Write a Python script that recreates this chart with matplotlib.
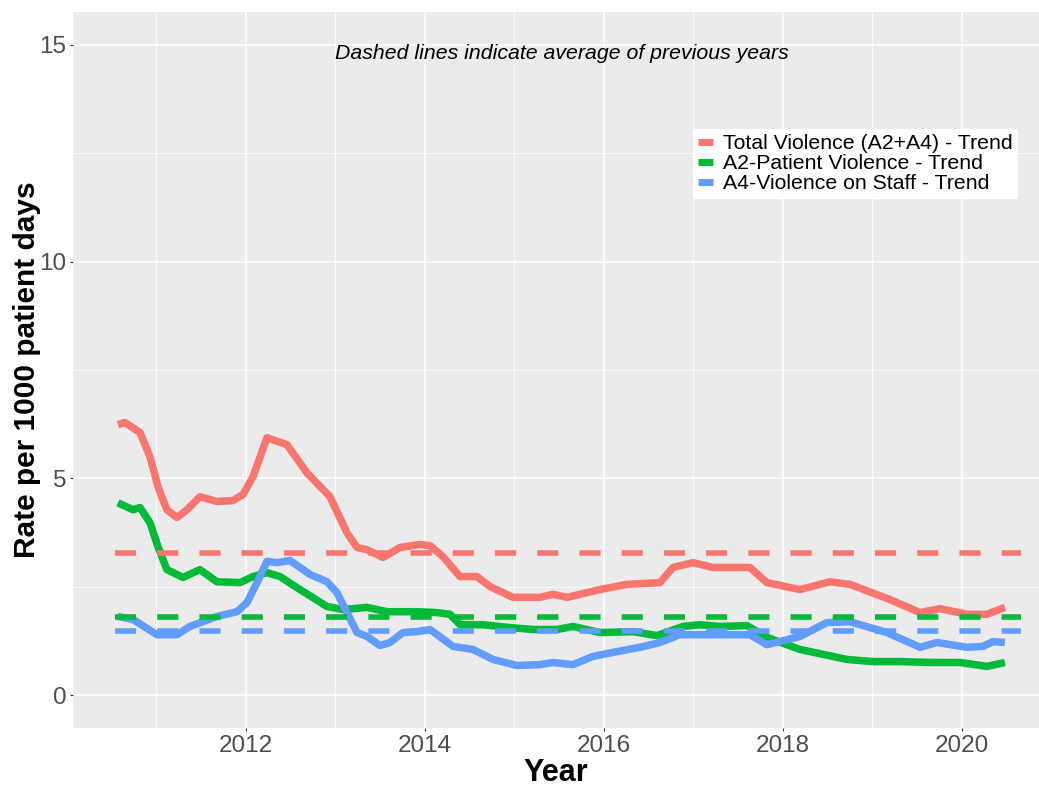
import matplotlib
matplotlib.use("Agg")
import matplotlib.pyplot as plt
from matplotlib.lines import Line2D
from matplotlib.ticker import MultipleLocator

plt.rcParams['font.family'] = ['Liberation Sans', 'DejaVu Sans']

# ---- data -------------------------------------------------------------
total_year = [2010.573, 2010.651, 2010.819, 2010.931, 2011.020, 2011.120, 2011.232, 2011.344,
              2011.489, 2011.679, 2011.858, 2011.970, 2012.082, 2012.238, 2012.461, 2012.685,
              2012.942, 2013.132, 2013.244, 2013.356, 2013.534, 2013.724, 2013.948, 2014.060,
              2014.205, 2014.395, 2014.584, 2014.730, 2014.987, 2015.288, 2015.434, 2015.590,
              2015.813, 2015.959, 2016.260, 2016.629, 2016.774, 2016.998, 2017.221, 2017.634,
              2017.824, 2018.193, 2018.528, 2018.752, 2019.199, 2019.534, 2019.757, 2020.059,
              2020.282, 2020.483]
total_rate = [6.24, 6.29, 6.06, 5.50, 4.81, 4.28, 4.10, 4.28,
              4.58, 4.47, 4.49, 4.63, 5.04, 5.94, 5.78, 5.13,
              4.58, 3.75, 3.41, 3.36, 3.18, 3.41, 3.48, 3.45,
              3.20, 2.74, 2.74, 2.51, 2.26, 2.26, 2.33, 2.26,
              2.37, 2.44, 2.56, 2.60, 2.95, 3.06, 2.95, 2.95,
              2.60, 2.44, 2.62, 2.56, 2.21, 1.91, 2.00, 1.87,
              1.87, 2.03]

patient_year = [2010.573, 2010.741, 2010.819, 2010.931, 2011.020, 2011.120, 2011.299, 2011.489,
                2011.679, 2011.936, 2012.082, 2012.238, 2012.383, 2012.607, 2012.908, 2013.087,
                2013.356, 2013.579, 2013.914, 2014.137, 2014.283, 2014.395, 2014.651, 2014.920,
                2015.210, 2015.478, 2015.657, 2015.959, 2016.328, 2016.596, 2016.886, 2017.076,
                2017.300, 2017.601, 2017.824, 2018.193, 2018.718, 2019.009, 2019.311, 2019.679,
                2019.981, 2020.282, 2020.483]
patient_rate = [4.44, 4.28, 4.33, 3.98, 3.43, 2.90, 2.72, 2.90,
                2.62, 2.60, 2.74, 2.83, 2.74, 2.44, 2.05, 1.98,
                2.03, 1.93, 1.93, 1.91, 1.87, 1.63, 1.63, 1.57,
                1.52, 1.52, 1.59, 1.45, 1.47, 1.38, 1.59, 1.63,
                1.59, 1.61, 1.34, 1.06, 0.83, 0.78, 0.78, 0.76,
                0.76, 0.67, 0.76]

staff_year = [2010.573, 2010.741, 2011.009, 2011.232, 2011.378, 2011.679, 2011.903, 2012.015,
              2012.126, 2012.238, 2012.350, 2012.495, 2012.718, 2012.908, 2013.020, 2013.132,
              2013.244, 2013.356, 2013.501, 2013.612, 2013.758, 2013.914, 2014.060, 2014.317,
              2014.540, 2014.763, 2015.031, 2015.288, 2015.434, 2015.657, 2015.880, 2016.148,
              2016.405, 2016.629, 2016.852, 2017.076, 2017.300, 2017.634, 2017.824, 2018.193,
              2018.494, 2018.752, 2019.165, 2019.534, 2019.724, 2020.059, 2020.237, 2020.349,
              2020.483]
staff_rate = [1.82, 1.75, 1.40, 1.40, 1.59, 1.82, 1.93, 2.14,
              2.60, 3.09, 3.06, 3.11, 2.79, 2.62, 2.37, 1.91,
              1.45, 1.36, 1.15, 1.22, 1.45, 1.47, 1.52, 1.13,
              1.06, 0.83, 0.69, 0.71, 0.76, 0.71, 0.90, 1.01,
              1.11, 1.22, 1.40, 1.40, 1.40, 1.40, 1.17, 1.36,
              1.68, 1.70, 1.45, 1.11, 1.22, 1.11, 1.13, 1.24,
              1.22]

# averages of previous years
avg_span = [2010.54, 2020.66]
avg_total = 3.29
avg_patient = 1.81
avg_staff = 1.48

labels = ["Total Violence (A2+A4) - Trend",
          "A2-Patient Violence - Trend",
          "A4-Violence on Staff - Trend"]
colors = ["#F8766D", "#00BA38", "#619CFF"]

# ---- figure -----------------------------------------------------------
fig = plt.figure(figsize=(10.39, 7.87), dpi=100)
fig.patch.set_facecolor("white")
ax = fig.add_axes([73.3 / 1039, 1 - 728 / 787, (1039 - 73.3) / 1039, (728 - 12) / 787])
ax.set_facecolor("#EBEBEB")
for s in ax.spines.values():
    s.set_visible(False)

ax.set_xlim(2010.074, 2020.864)
ax.set_ylim(-0.75, 15.75)

ax.xaxis.set_major_locator(MultipleLocator(2))
ax.xaxis.set_minor_locator(MultipleLocator(1))
ax.yaxis.set_major_locator(MultipleLocator(5))
ax.yaxis.set_minor_locator(MultipleLocator(2.5))
ax.set_xticks([2012, 2014, 2016, 2018, 2020])
ax.grid(which="major", color="white", linewidth=1.1)
ax.grid(which="minor", color="white", linewidth=0.55)
ax.set_axisbelow(True)

ax.tick_params(which="major", length=2.5, width=0.8, color="#333333",
               labelcolor="#4D4D4D", labelsize=17.5, pad=2.5)
ax.tick_params(which="minor", length=0)

series = [(total_year, total_rate), (patient_year, patient_rate), (staff_year, staff_rate)]
for (xs, ys), c in zip(series, colors):
    ax.plot(xs, ys, color=c, linewidth=5.4, solid_capstyle="butt", solid_joinstyle="round")

for val, c in zip([avg_total, avg_patient, avg_staff], colors):
    ax.plot(avg_span, [val, val], color=c, linewidth=4.0, dashes=(3.8, 3.8),
            dash_capstyle="butt")

ax.text(2015.53, 14.8, "Dashed lines indicate average of previous years",
        fontsize=15.3, style="italic", color="black", ha="center", va="center")

ax.set_xlabel("Year", fontsize=22, fontweight="bold", labelpad=1)
ax.set_ylabel("Rate per 1000 patient days", fontsize=21.5, fontweight="bold")
ax.yaxis.set_label_coords(-(73.3 - 41) / (1039 - 73.3), 0.5)

handles = [Line2D([0], [0], color=c, linewidth=5, solid_capstyle="butt") for c in colors]
leg = ax.legend(handles, labels, loc="upper left",
                bbox_to_anchor=(693 / 1039, 1 - 129 / 787), bbox_transform=fig.transFigure,
                fontsize=15.3, frameon=True, fancybox=False, framealpha=1,
                handlelength=0.7, handletextpad=0.45, labelspacing=0.05,
                borderpad=0.25, borderaxespad=0)
leg.get_frame().set_facecolor("white")
leg.get_frame().set_edgecolor("none")

fig.savefig("out.png", dpi=100)
